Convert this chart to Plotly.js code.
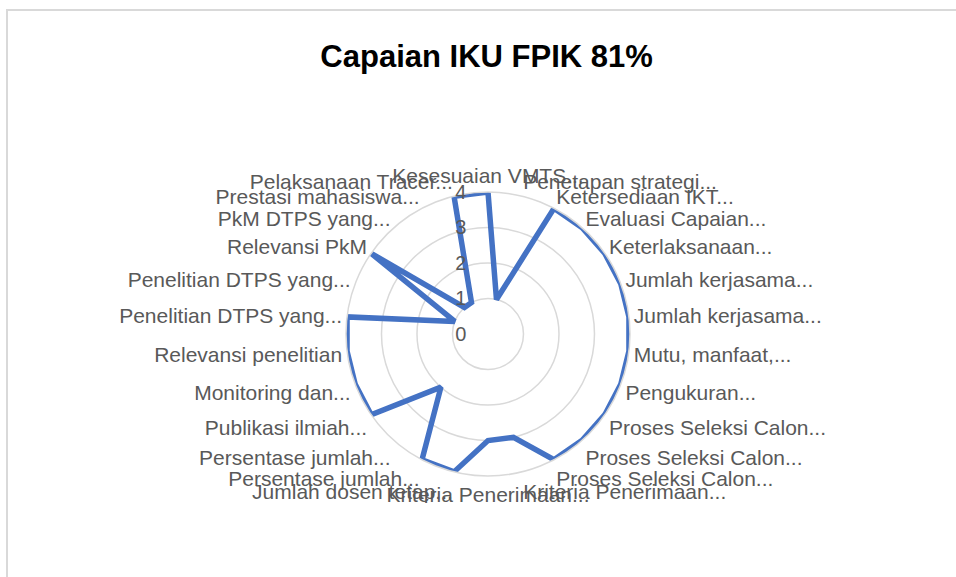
<!DOCTYPE html>
<html>
<head>
<meta charset="utf-8">
<script src="https://cdn.plot.ly/plotly-3.0.1.min.js"></script>
<style>
  html, body { margin: 0; padding: 0; background: #ffffff; }
  #wrap { position: relative; width: 956px; height: 577px; overflow: hidden; }
  #chart { position: absolute; left: 0; top: 0; width: 956px; height: 577px; }
  #frame { position: absolute; left: 6px; top: 9px; right: -4px; bottom: -4px;
           border-top: 2px solid #d9d9d9; border-left: 2px solid #d9d9d9; pointer-events: none; }
</style>
</head>
<body>
<div id="wrap">
  <div id="chart"></div>
  <div id="frame"></div>
</div>
<script>
const chartTitle = "Capaian IKU FPIK 81%";

const categories = [
  "Kesesuaian VMTS...",
  "Penetapan strategi...",
  "Ketersediaan IKT...",
  "Evaluasi Capaian...",
  "Keterlaksanaan...",
  "Jumlah kerjasama...",
  "Jumlah kerjasama...",
  "Mutu, manfaat,...",
  "Pengukuran...",
  "Proses Seleksi Calon...",
  "Proses Seleksi Calon...",
  "Proses Seleksi Calon...",
  "Kriteria Penerimaan...",
  "Kriteria Penerimaan...",
  "Jumlah dosen tetap...",
  "Persentase jumlah...",
  "Persentase jumlah...",
  "Publikasi ilmiah...",
  "Monitoring dan...",
  "Relevansi penelitian",
  "Penelitian DTPS yang...",
  "Penelitian DTPS yang...",
  "Relevansi PkM",
  "PkM DTPS yang...",
  "Prestasi mahasiswa...",
  "Pelaksanaan Tracer..."
];

const values = [4, 1, 4, 4, 4, 4, 4, 4, 4, 4, 4, 4, 3, 3, 4, 4, 2, 4, 4, 4, 4, 1, 4, 1, 1, 4];

const radialTicks = [0, 1, 2, 3, 4];

// make duplicate labels unique (invisible zero-width suffix) so each keeps its own spoke
const seen = {};
const keys = categories.map(function (c) {
  seen[c] = (seen[c] || 0) + 1;
  return c + "\u200b".repeat(seen[c] - 1);
});

const trace = {
  type: "scatterpolar",
  mode: "lines",
  r: values.concat([values[0]]),
  theta: keys.concat([keys[0]]),
  line: { color: "#4472C4", width: 5.5, shape: "linear" },
  hoverinfo: "skip",
  showlegend: false
};

const layout = {
  width: 956,
  height: 577,
  margin: { l: 0, r: 0, t: 0, b: 0 },
  paper_bgcolor: "#ffffff",
  plot_bgcolor: "#ffffff",
  showlegend: false,
  title: {
    text: "<b>" + chartTitle + "</b>",
    font: { family: "'Liberation Sans', Arial, sans-serif", size: 31, color: "#000000" },
    x: 0.509, xanchor: "center", xref: "paper",
    y: 0.902, yanchor: "middle", yref: "container"
  },
  polar: {
    domain: { x: [0.3619, 0.6590], y: [0.1750, 0.6672] },
    bgcolor: "rgba(0,0,0,0)",
    radialaxis: {
      range: [0, 4],
      tickmode: "array",
      tickvals: radialTicks,
      ticktext: radialTicks.map(String),
      angle: 90,
      side: "counterclockwise",
      showline: false,
      showgrid: true,
      gridcolor: "#d9d9d9",
      gridwidth: 1.5,
      ticks: "outside",
      ticklen: 14,
      tickcolor: "rgba(0,0,0,0)",
      tickangle: 90,
      tickfont: { family: "'Liberation Sans', Arial, sans-serif", size: 20, color: "#595959" }
    },
    angularaxis: {
      type: "category",
      categoryorder: "array",
      categoryarray: keys,
      direction: "clockwise",
      rotation: 90,
      showgrid: false,
      showline: true,
      linecolor: "#d9d9d9",
      linewidth: 1.5,
      ticks: "",
      tickfont: { family: "'Liberation Sans', Arial, sans-serif", size: 21, color: "#595959" }
    }
  }
};

Plotly.newPlot("chart", [trace], layout, { displayModeBar: false, staticPlot: true });
</script>
</body>
</html>
